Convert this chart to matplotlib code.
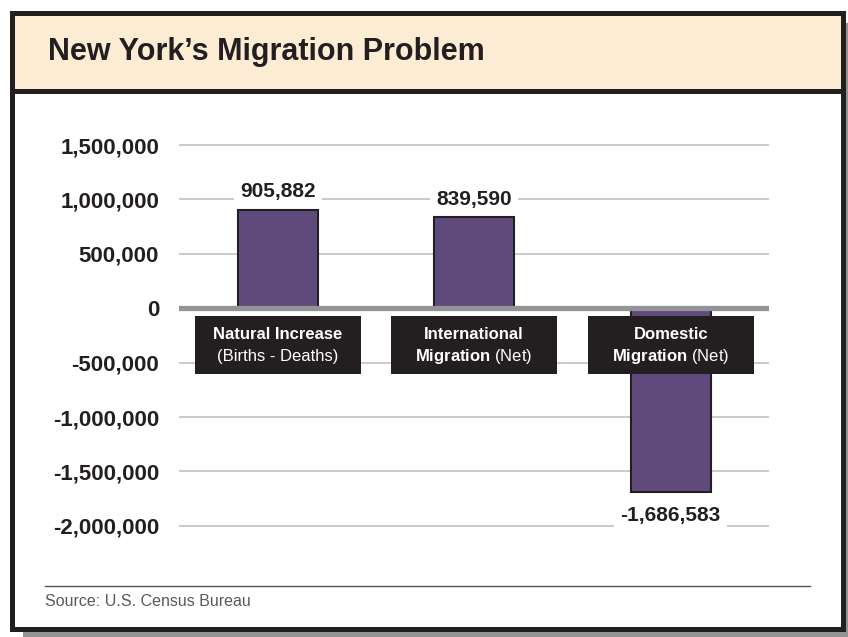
import numpy as np
import matplotlib
matplotlib.use("Agg")
import matplotlib.pyplot as plt
from matplotlib.patches import Rectangle

plt.rcParams['font.family'] = ['Liberation Sans', 'DejaVu Sans']
plt.rcParams['mathtext.fontset'] = 'custom'
plt.rcParams['mathtext.rm'] = 'Liberation Sans'
plt.rcParams['mathtext.bf'] = 'Liberation Sans:bold'

# components of population change
cat_line1 = ["Natural Increase", "International", "Domestic"]
cat_line2 = ["(Births - Deaths)", r"$\mathbf{Migration}$ (Net)", r"$\mathbf{Migration}$ (Net)"]
values = [905882, 839590, -1686583]
yticks = [-2000000, -1500000, -1000000, -500000, 0, 500000, 1000000, 1500000]

title = "New York\u2019s Migration Problem"
source = "Source: U.S. Census Bureau"

dark = '#231f20'
purple = '#604a7b'

fig = plt.figure(figsize=(8.48, 6.37), dpi=100)

# frame, drop shadow and title band, laid out in pixel units
bg = fig.add_axes([0, 0, 1, 1], zorder=0)
bg.set_xlim(0, 848)
bg.set_ylim(637, 0)
bg.axis('off')
bg.add_patch(Rectangle((23, 23), 825, 614, fc='#939393', ec='none'))
bg.add_patch(Rectangle((11.5, 12.5), 831, 616, fc='white', ec=dark, lw=3.6))
bg.add_patch(Rectangle((11.5, 12.5), 831, 78.5, fc='#fcecd3', ec=dark, lw=3.6))
bg.text(48, 60, title, fontsize=22, fontweight='bold', color=dark, va='baseline')
bg.plot([45, 810], [586, 586], color='#555555', lw=1)
bg.text(45, 602, source, fontsize=11.5, color='#595959', va='center')

ax = fig.add_axes([0.21144, 0.12323, 0.69540, 0.69168], zorder=1)
ax.patch.set_alpha(0)
x = np.arange(len(values))

ax.bar(x, values, width=0.407, color=purple, edgecolor=dark, linewidth=1.5, zorder=2)
ax.axhline(0, color='#929497', lw=3.8, zorder=3)

ax.set_xlim(-0.5, 2.5)
ax.set_ylim(-2300000, 1750000)
ax.set_yticks(yticks, [f"{v:,}" for v in yticks])
ax.set_xticks([])
ax.grid(axis='y', color='#bcbcbc', lw=1.1)
ax.set_axisbelow(True)
ax.tick_params(axis='y', length=0, pad=14.5, labelsize=16)
for lab in ax.get_yticklabels():
    lab.set_fontweight('bold')
    lab.set_color(dark)
for s in ax.spines.values():
    s.set_visible(False)

# value labels with white backing over the gridlines
for i, v in enumerate(values):
    ax.annotate(f"{v:,}", xy=(i, v), xytext=(0, 6 if v > 0 else -10),
                textcoords='offset points', ha='center',
                va='bottom' if v > 0 else 'top', fontsize=15,
                fontweight='bold', color=dark, zorder=5,
                bbox=dict(boxstyle='square,pad=0.3', fc='white', ec='none'))

# black category tags under the zero line
for i in x:
    ax.add_patch(Rectangle((i - 0.4225, -603900), 0.845, 533100,
                           fc=dark, ec='none', zorder=4))
    ax.text(i, -245000, cat_line1[i], ha='center', va='center', fontsize=12,
            fontweight='bold', color='white', zorder=5)
    ax.text(i, -445000, cat_line2[i], ha='center', va='center', fontsize=12,
            color='white', zorder=5)

fig.savefig('out.png', dpi=100)
